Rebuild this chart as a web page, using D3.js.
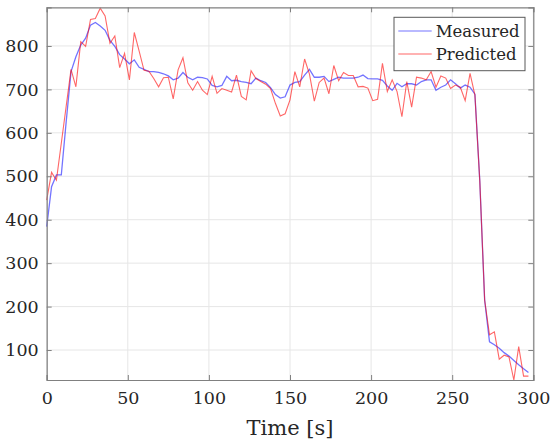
<!DOCTYPE html>
<html>
<head>
<meta charset="utf-8">
<script src="https://d3js.org/d3.v7.min.js"></script>
<style>
  body { margin: 0; background: #fff; }
  text { font-family: 'DejaVu Serif', serif; fill: #262626; }
</style>
</head>
<body>
<svg id="chart" width="559" height="443"></svg>
<script>
'use strict';

// sample times (s)
var time = [0,3,6,9,12,15,18,21,24,27,30,33,36,39,42,45,48,51,54,57,
            60,63,66,69,72,75,78,81,84,87,90,93,96,99,102,105,108,111,114,117,
            120,123,126,129,132,135,138,141,144,147,150,153,156,159,162,165,168,171,174,177,
            180,183,186,189,192,195,198,201,204,207,210,213,216,219,222,225,228,231,234,237,
            240,243,246,249,252,255,258,261,264,267,270,273,276,279,282,285,288,291,294,297];

var measured = [384,476,503,503,625,741,775,802,818,848,854,846,836,813,799,780,770,759,768,751,
                746,741,741,739,736,731,722,726,739,728,722,728,727,724,709,706,709,730,720,721,
                718,716,713,726,720,716,704,688,680,683,710,716,718,733,746,728,728,730,718,723,
                728,726,726,726,728,733,725,724,724,721,708,698,714,706,713,713,710,718,722,722,
                698,705,710,722,713,703,710,705,689,490,215,119,112,104,94,86,76,66,57,48];

var predicted = [445,509,491,576,661,746,706,810,799,861,863,887,869,806,823,750,783,722,831,788,
                 744,742,725,706,727,728,678,745,773,715,698,718,698,688,730,691,702,698,694,733,
                 684,676,743,725,718,712,702,668,639,644,676,741,706,770,735,673,716,726,690,755,
                 720,739,732,732,706,707,703,674,677,760,695,722,695,637,718,659,728,726,722,741,
                 705,731,726,702,710,705,674,737,687,490,215,135,142,79,88,84,31,108,40,40];

var xTicks = [0,50,100,150,200,250,300];
var yTicks = [100,200,300,400,500,600,700,800];
var seriesNames = ["Measured","Predicted"];

(function() {
  var svg = d3.select("#chart");
  var m = {left: 46.7, right: 533.3, top: 7.3, bottom: 380};

  var x = d3.scaleLinear().domain([0, 300]).range([m.left, m.right]);
  var y = d3.scaleLinear().domain([31, 889]).range([m.bottom, m.top]);

  // grid
  var grid = svg.append("g").attr("stroke", "#e6e6e6").attr("stroke-width", 1);
  grid.selectAll(".gx").data(xTicks).enter().append("line")
    .attr("x1", function(d){ return x(d); }).attr("x2", function(d){ return x(d); })
    .attr("y1", m.top).attr("y2", m.bottom);
  grid.selectAll(".gy").data(yTicks).enter().append("line")
    .attr("y1", function(d){ return y(d); }).attr("y2", function(d){ return y(d); })
    .attr("x1", m.left).attr("x2", m.right);

  // lines
  var line = d3.line()
    .x(function(d, i){ return x(time[i]); })
    .y(function(d){ return y(d); });

  svg.append("path").datum(measured)
    .attr("fill", "none").attr("stroke", "#0000ff").attr("stroke-opacity", 0.55)
    .attr("stroke-width", 1.3).attr("d", line);

  svg.append("path").datum(predicted)
    .attr("fill", "none").attr("stroke", "#ff0000").attr("stroke-opacity", 0.6)
    .attr("stroke-width", 1.1).attr("d", line);

  // axes (box with inward ticks)
  var axCol = "#808080";
  svg.append("g").attr("transform", "translate(0," + m.bottom + ")")
    .call(d3.axisBottom(x).tickValues(xTicks).tickSize(-5).tickPadding(12));
  svg.append("g").attr("transform", "translate(" + m.left + ",0)")
    .call(d3.axisLeft(y).tickValues(yTicks).tickSize(-5).tickPadding(8));
  svg.append("g").attr("transform", "translate(0," + m.top + ")")
    .call(d3.axisTop(x).tickValues(xTicks).tickSize(-5).tickFormat(""));
  svg.append("g").attr("transform", "translate(" + m.right + ",0)")
    .call(d3.axisRight(y).tickValues(yTicks).tickSize(-5).tickFormat(""));

  svg.selectAll(".domain").attr("stroke", axCol).attr("stroke-width", 1.2);
  svg.selectAll(".tick line").attr("stroke", axCol);
  svg.selectAll(".tick text").attr("fill", "#262626")
    .style("font-family", "'DejaVu Serif', serif").style("font-size", "17.5px");

  // x label
  svg.append("text")
    .attr("x", (m.left + m.right) / 2).attr("y", 435)
    .attr("text-anchor", "middle")
    .style("font-size", "21px")
    .text("Time [s]");

  // legend
  var lg = svg.append("g");
  lg.append("rect").attr("x", 394).attr("y", 17.3).attr("width", 131).attr("height", 53.4)
    .attr("fill", "#fff").attr("stroke", "#595959").attr("stroke-width", 1);
  var legCols = ["rgba(0,0,255,0.55)", "rgba(255,0,0,0.6)"];
  seriesNames.forEach(function(name, i){
    var cy = 31 + i * 23;
    lg.append("line").attr("x1", 398.3).attr("x2", 431.7).attr("y1", cy).attr("y2", cy)
      .attr("stroke", legCols[i]).attr("stroke-width", 1.2);
    lg.append("text").attr("x", 435.7).attr("y", cy).attr("dy", "0.35em")
      .style("font-size", "16.5px").text(name);
  });
})();
</script>
</body>
</html>
